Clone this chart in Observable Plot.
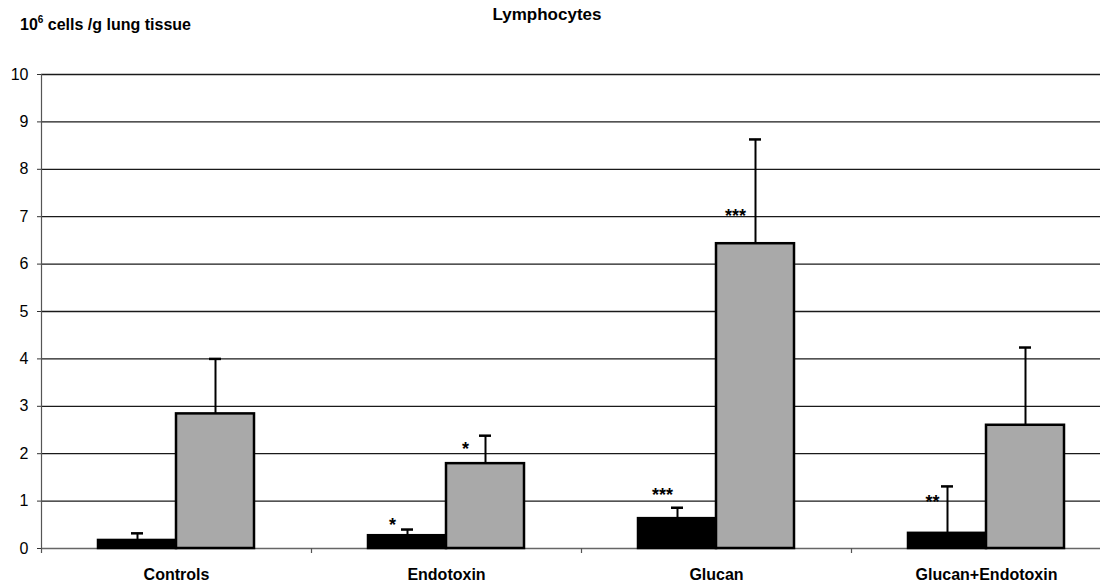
<!DOCTYPE html>
<html>
<head>
<meta charset="utf-8">
<script src="https://cdn.jsdelivr.net/npm/d3@7"></script>
<script src="https://cdn.jsdelivr.net/npm/@observablehq/plot@0.6"></script>
<style>
  html, body { margin: 0; padding: 0; background: #fff; }
  body { width: 1100px; height: 583px; overflow: hidden; font-family: "Liberation Sans", Arial, sans-serif; }
  #wrap { position: relative; width: 1100px; height: 583px; }
  #title { position: absolute; left: 0; width: 1094px; top: 5px; text-align: center; font-weight: bold; font-size: 17px; }
  #ylabel { position: absolute; left: 20px; top: 15px; font-weight: bold; font-size: 16px; }
  #ylabel sup { font-size: 10px; position: relative; top: -1px; }
  #chart { position: absolute; left: 0; top: 0; }
  #chart svg { font-family: "Liberation Sans", Arial, sans-serif; }
</style>
</head>
<body>
<div id="wrap">
  <div id="chart"></div>
  <div id="title">Lymphocytes</div>
  <div id="ylabel">10<sup>6</sup> cells /g lung tissue</div>
</div>
<script>
// ---- data ----
const categories = ["Controls", "Endotoxin", "Glucan", "Glucan+Endotoxin"];
const series = ["Series 1", "Series 2"];
const meansSeries1 = [0.17, 0.27, 0.63, 0.32];
const meansSeries2 = [2.84, 1.79, 6.43, 2.60];
const errSeries1 = [0.15, 0.13, 0.23, 0.99];
const errSeries2 = [1.16, 0.59, 2.20, 1.64];
const yTicks = [0, 1, 2, 3, 4, 5, 6, 7, 8, 9, 10];
// significance marks: category, series, label, y level
const starCategories = ["Endotoxin", "Endotoxin", "Glucan", "Glucan", "Glucan+Endotoxin"];
const starSeries = ["Series 1", "Series 2", "Series 1", "Series 2", "Series 1"];
const starLabels = ["*", "*", "***", "***", "**"];
const starY = [0.57, 2.17, 1.20, 7.09, 1.05];

// ---- build table ----
const rows = [];
categories.forEach((c, i) => {
  rows.push({category: c, series: series[0], mean: meansSeries1[i], top: meansSeries1[i] + errSeries1[i]});
  rows.push({category: c, series: series[1], mean: meansSeries2[i], top: meansSeries2[i] + errSeries2[i]});
});
const stars = starCategories.map((c, i) => ({category: c, series: starSeries[i], label: starLabels[i], y: starY[i]}));

const s1 = rows.filter(d => d.series === series[0]);
const s2 = rows.filter(d => d.series === series[1]);
const st1 = stars.filter(d => d.series === series[0]);
const st2 = stars.filter(d => d.series === series[1]);

const half = 39; // half bar width offset
const chart = Plot.plot({
  width: 1100,
  height: 583,
  marginLeft: 41,
  marginRight: 0,
  marginTop: 74,
  marginBottom: 35,
  style: {fontFamily: "Liberation Sans, Arial, sans-serif", background: "#fff", color: "#000"},
  x: {domain: categories, range: [41, 1121], padding: 0, axis: null},
  y: {domain: [0, 10], axis: null},
  color: {domain: series, range: ["#000000", "#a9a9a9"]},
  marks: [
    // gridlines
    Plot.ruleY(yTicks.filter(t => t > 0), {stroke: "#1a1a1a", strokeWidth: 1.3}),
    Plot.ruleY([0], {stroke: "#666", strokeWidth: 1.5}),
    // y axis with ticks and labels
    Plot.axisY(yTicks, {anchor: "left", tickSize: 4, tickPadding: 9, fontSize: 16, stroke: "#333", label: null}),
    // vertical axis line at the left edge of the first band
    Plot.ruleX([categories[0]], {x: d => d, dx: -135, y1: 0, y2: 10, stroke: "#555", strokeWidth: 1.2}),
    // category boundary ticks on the bottom
    Plot.ruleX(categories, {x: d => d, dx: -135, y1: 0, y2: 0, insetBottom: -5, stroke: "#555", strokeWidth: 1.2}),
    // category labels
    Plot.axisX(categories, {anchor: "bottom", tickSize: 0, tickPadding: 20, fontSize: 16, fontWeight: "bold", label: null}),
    // error bars
    Plot.ruleX(s1, {x: "category", y1: "mean", y2: "top", dx: -half, stroke: "#000", strokeWidth: 2}),
    Plot.ruleX(s2, {x: "category", y1: "mean", y2: "top", dx: half, stroke: "#000", strokeWidth: 2}),
    Plot.tickY(s1, {x: "category", y: "top", insetLeft: 90, insetRight: 168, stroke: "#000", strokeWidth: 2.5}),
    Plot.tickY(s2, {x: "category", y: "top", insetLeft: 168, insetRight: 90, stroke: "#000", strokeWidth: 2.5}),
    // bars
    Plot.barY(s1, {x: "category", y: "mean", fill: "series", stroke: "#000", strokeWidth: 2.5, insetLeft: 57, insetRight: 135}),
    Plot.barY(s2, {x: "category", y: "mean", fill: "series", stroke: "#000", strokeWidth: 2.5, insetLeft: 135, insetRight: 57}),
    // significance stars
    Plot.text(st1, {x: "category", y: "y", text: "label", dx: -half - 15, dy: 4, fontSize: 18, fontWeight: "bold", fill: "#000"}),
    Plot.text(st2, {x: "category", y: "y", text: "label", dx: half - 20, dy: 4, fontSize: 18, fontWeight: "bold", fill: "#000"})
  ]
});
document.getElementById("chart").appendChild(chart);
</script>
</body>
</html>
